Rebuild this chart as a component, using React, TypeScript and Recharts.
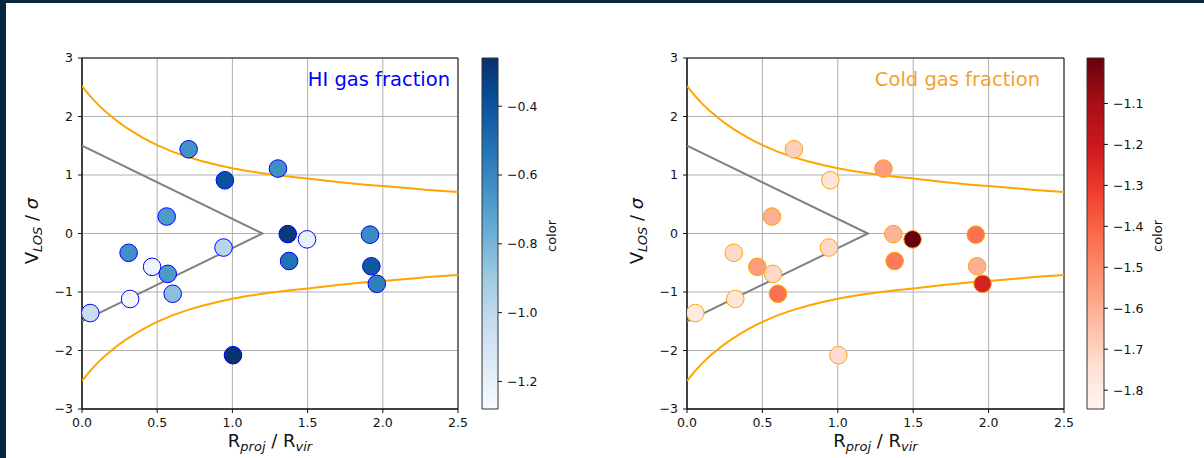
import React from 'react';
import { ScatterChart, Scatter, XAxis, YAxis, CartesianGrid, ReferenceArea } from 'recharts';

// ---- data ----
const rProj = [0.055, 0.32, 0.31, 0.466, 0.563, 0.57, 0.603, 0.709, 0.95, 0.941, 1.004, 1.303, 1.368, 1.377, 1.496, 1.915, 1.924, 1.96];
const vLos = [-1.36, -1.12, -0.33, -0.57, 0.29, -0.69, -1.03, 1.44, 0.91, -0.24, -2.08, 1.11, -0.01, -0.47, -0.1, -0.02, -0.56, -0.86];
const hiFraction = [-1.05, -1.26, -0.64, -1.23, -0.68, -0.67, -0.85, -0.64, -0.4, -0.98, -0.27, -0.63, -0.3, -0.52, -1.21, -0.62, -0.42, -0.57];
const coldFraction = [-1.79, -1.77, -1.72, -1.55, -1.6, -1.72, -1.44, -1.69, -1.76, -1.72, -1.73, -1.55, -1.61, -1.46, -0.99, -1.44, -1.6, -1.23];

const envX = [0, 0.05, 0.1, 0.15, 0.2, 0.25, 0.3, 0.35, 0.4, 0.45, 0.5, 0.6, 0.7, 0.8, 0.9, 1.0, 1.1, 1.2, 1.3, 1.4, 1.5, 1.6, 1.7, 1.8, 1.9, 2.0, 2.1, 2.2, 2.3, 2.4, 2.5];
const envUpper = [2.52, 2.36, 2.22, 2.1, 1.99, 1.89, 1.8, 1.72, 1.645, 1.575, 1.51, 1.4, 1.31, 1.235, 1.17, 1.115, 1.07, 1.03, 0.995, 0.965, 0.94, 0.91, 0.88, 0.855, 0.83, 0.81, 0.79, 0.77, 0.745, 0.725, 0.71];
const envLower = [-2.52, -2.36, -2.22, -2.1, -1.99, -1.89, -1.8, -1.72, -1.645, -1.575, -1.51, -1.4, -1.31, -1.235, -1.17, -1.115, -1.07, -1.03, -0.995, -0.965, -0.94, -0.91, -0.88, -0.855, -0.83, -0.81, -0.79, -0.77, -0.745, -0.725, -0.71];

const wedgeX = [0, 1.2, 0];
const wedgeY = [1.5, 0, -1.5];

const xTicks = [0, 0.5, 1, 1.5, 2, 2.5];
const yTicks = [-3, -2, -1, 0, 1, 2, 3];
const hiTicks = [-1.2, -1.0, -0.8, -0.6, -0.4];
const coldTicks = [-1.8, -1.7, -1.6, -1.5, -1.4, -1.3, -1.2, -1.1];
const hiRange = [-1.28, -0.26];
const coldRange = [-1.846, -0.989];

const BLUES = ['#f7fbff', '#deebf7', '#c6dbef', '#9ecae1', '#6baed6', '#4292c6', '#2171b5', '#08519c', '#08306b'];
const REDS = ['#fff5f0', '#fee0d2', '#fcbba1', '#fc9272', '#fb6a4a', '#ef3b2c', '#cb181d', '#a50f15', '#67000d'];

const FONT = "'DejaVu Sans', sans-serif";

const hexToRgb = (h: string) => [parseInt(h.slice(1, 3), 16), parseInt(h.slice(3, 5), 16), parseInt(h.slice(5, 7), 16)];
function cmap(stops: string[], t: number) {
  const tt = Math.max(0, Math.min(1, t));
  const pos = tt * (stops.length - 1);
  const i = Math.min(Math.floor(pos), stops.length - 2);
  const f = pos - i;
  const a = hexToRgb(stops[i]);
  const b = hexToRgb(stops[i + 1]);
  const c = a.map((v, k) => Math.round(v + (b[k] - v) * f));
  return `rgb(${c[0]},${c[1]},${c[2]})`;
}

const minus = (s: string) => s.replace('-', '\u2212');
const tickStyle = { fill: '#111', fontSize: 12.5, fontFamily: FONT };
const noShape = () => <g />;

function Panel(props: any) {
  const { left, width, yAxisWidth, values, range, stops, edge, title, titleColor, titleX } = props;
  const points = rProj.map((x, i) => ({ x, y: vLos[i], c: values[i] }));
  const upper = envX.map((x, i) => ({ x, y: envUpper[i] }));
  const lower = envX.map((x, i) => ({ x, y: envLower[i] }));
  const wedge = wedgeX.map((x, i) => ({ x, y: wedgeY[i] }));
  const xLabel = (p: any) => {
    const vb = p.viewBox;
    const cx = vb.x + vb.width / 2;
    return (
      <text x={cx} y={vb.y + 38} textAnchor="middle" fontFamily={FONT} fontSize={18} fill="#111">
        <tspan>R</tspan>
        <tspan fontSize={13} fontStyle="italic" dy={3.5}>proj</tspan>
        <tspan dy={-3.5}> / R</tspan>
        <tspan fontSize={13} fontStyle="italic" dy={3.5}>vir</tspan>
      </text>
    );
  };
  const yLabel = (p: any) => {
    const vb = p.viewBox;
    const x = vb.x + vb.width - 44;
    const y = 231;
    return (
      <text x={x} y={y} textAnchor="middle" fontFamily={FONT} fontSize={18} fill="#111" transform={`rotate(-90 ${x} ${y})`}>
        <tspan>V</tspan>
        <tspan fontSize={13} fontStyle="italic" dy={3.5}>LOS</tspan>
        <tspan dy={-3.5}> / </tspan>
        <tspan fontStyle="italic">σ</tspan>
      </text>
    );
  };
  const dot = (p: any) => (
    <circle cx={p.cx} cy={p.cy} r={8.8} fill={cmap(stops, (p.payload.c - range[0]) / (range[1] - range[0]))} stroke={edge} strokeWidth={1} />
  );
  return (
    <div style={{ position: 'absolute', left, top: 0 }}>
      <ScatterChart width={width} height={458} margin={{ top: 58, right: 12, bottom: 0, left: 0 }}>
        <CartesianGrid stroke="#b0b0b0" strokeWidth={1} />
        <XAxis type="number" dataKey="x" domain={[0, 2.5]} ticks={xTicks} interval={0} allowDataOverflow height={49}
          tickSize={4} tickMargin={5} tick={tickStyle} tickFormatter={(v: number) => v.toFixed(1)} stroke="#111" label={xLabel} />
        <YAxis type="number" dataKey="y" domain={[-3, 3]} ticks={yTicks} interval={0} allowDataOverflow width={yAxisWidth}
          tickSize={4} tickMargin={5} tick={tickStyle} tickFormatter={(v: number) => minus(String(v))} stroke="#111" label={yLabel} />
        <ReferenceArea x1={0} x2={2.5} y1={-3} y2={3} fill="none" stroke="#111" strokeWidth={1} />
        <Scatter data={upper} line={{ stroke: '#FFA500', strokeWidth: 2 }} shape={noShape} isAnimationActive={false} />
        <Scatter data={lower} line={{ stroke: '#FFA500', strokeWidth: 2 }} shape={noShape} isAnimationActive={false} />
        <Scatter data={wedge} line={{ stroke: '#808080', strokeWidth: 2 }} shape={noShape} isAnimationActive={false} />
        <Scatter data={points} shape={dot} isAnimationActive={false} />
        <text x={titleX} y={86} textAnchor="end" fontFamily={FONT} fontSize={19.5} fill={titleColor}>{title}</text>
      </ScatterChart>
    </div>
  );
}

function ColorBar(props: any) {
  const { left, width, barLeft, barWidth, range, ticks, stops, id } = props;
  const label = (p: any) => {
    const vb = p.viewBox;
    const x = vb.x + 58;
    const y = 236;
    return (
      <text x={x} y={y} textAnchor="middle" fontFamily={FONT} fontSize={13} fill="#111" transform={`rotate(-90 ${x} ${y})`}>color</text>
    );
  };
  return (
    <div style={{ position: 'absolute', left, top: 0 }}>
      <ScatterChart width={width} height={458} margin={{ top: 58, right: 0, bottom: 49, left: barLeft }}>
        <defs>
          <linearGradient id={id} x1="0" y1="1" x2="0" y2="0">
            {stops.map((s: string, i: number) => (
              <stop key={i} offset={i / (stops.length - 1)} stopColor={s} />
            ))}
          </linearGradient>
        </defs>
        <XAxis type="number" dataKey="x" domain={[0, 1]} hide allowDataOverflow />
        <YAxis type="number" dataKey="y" orientation="right" domain={range} ticks={ticks} interval={0} allowDataOverflow
          width={width - barLeft - barWidth} axisLine={false} tickSize={4} tickMargin={5} tick={tickStyle} stroke="#111"
          tickFormatter={(v: number) => minus(v.toFixed(1))} label={label} />
        <ReferenceArea x1={0} x2={1} y1={range[0]} y2={range[1]} fill={`url(#${id})`} fillOpacity={1} stroke="#333" strokeWidth={1} />
        <Scatter data={[]} isAnimationActive={false} />
      </ScatterChart>
    </div>
  );
}

export default function App() {
  return (
    <div style={{ position: 'absolute', left: 0, top: 0, width: 1204, height: 458, background: '#0a2540', fontFamily: FONT, overflow: 'hidden' }}>
      <div style={{ position: 'absolute', left: 6, top: 3, width: 1198, height: 455, background: '#fff' }} />
      <Panel left={0} width={470} yAxisWidth={82} values={hiFraction} range={hiRange} stops={BLUES} edge="#0000ff"
        title="HI gas fraction" titleColor="#0000ff" titleX={450} />
      <ColorBar left={470} width={120} barLeft={12} barWidth={16} range={hiRange} ticks={hiTicks} stops={BLUES} id="gBlues" />
      <Panel left={580} width={496} yAxisWidth={107} values={coldFraction} range={coldRange} stops={REDS} edge="#FFA500"
        title="Cold gas fraction" titleColor="#F7A030" titleX={460} />
      <ColorBar left={1076} width={120} barLeft={11} barWidth={17} range={coldRange} ticks={coldTicks} stops={REDS} id="gReds" />
    </div>
  );
}
